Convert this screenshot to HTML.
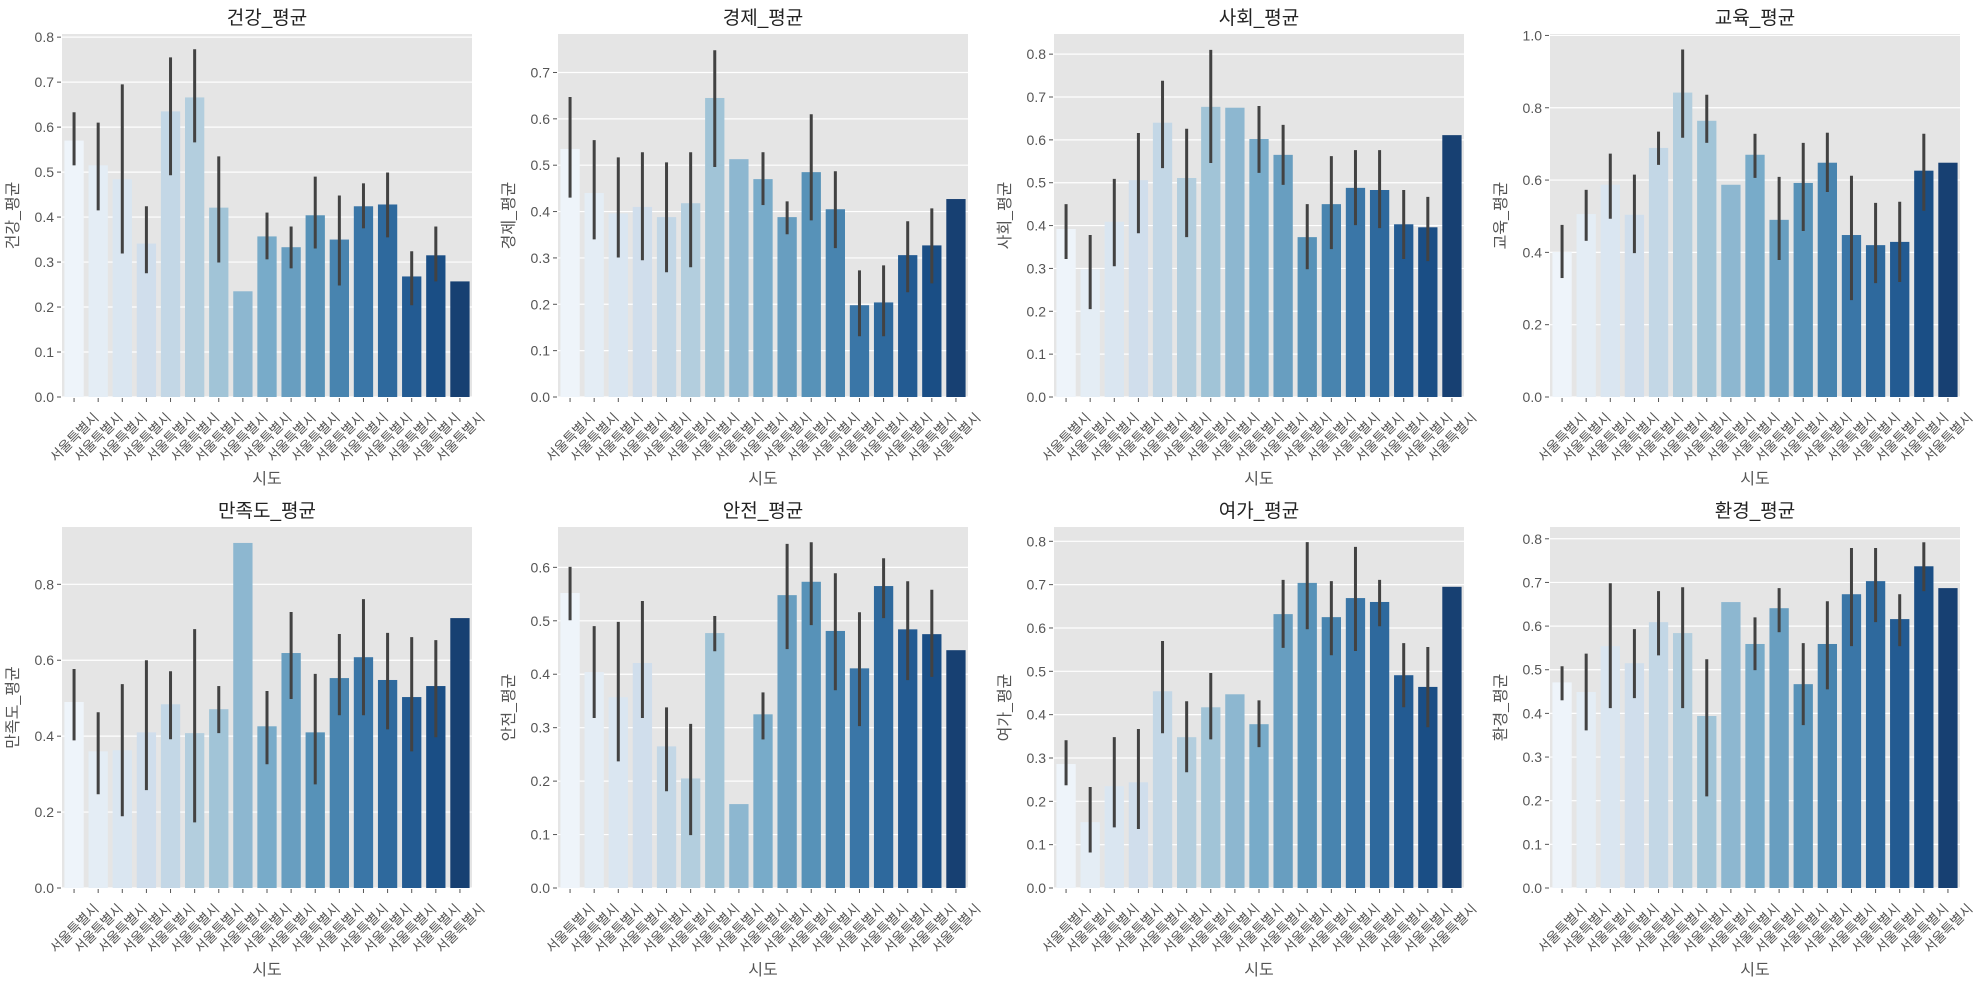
<!DOCTYPE html>
<html><head><meta charset="utf-8">
<style>
html,body{margin:0;padding:0;background:#fff;}
svg{display:block;font-family:"Liberation Sans","Noto Sans CJK KR","NanumGothic",sans-serif;}
</style></head>
<body>
<svg id="fig" width="1987" height="989" viewBox="0 0 1987 989" xmlns="http://www.w3.org/2000/svg"></svg>
<script>
const categories = ["서울특별시","서울특별시","서울특별시","서울특별시","서울특별시","서울특별시","서울특별시","서울특별시","서울특별시","서울특별시","서울특별시","서울특별시","서울특별시","서울특별시","서울특별시","서울특별시","서울특별시"];

const healthMean = [0.570,0.515,0.484,0.341,0.635,0.666,0.421,0.235,0.357,0.333,0.404,0.350,0.424,0.428,0.268,0.315,0.257];
const healthLo   = [0.515,0.415,0.319,0.275,0.493,0.566,0.299,null,0.306,0.286,0.330,0.248,0.375,0.355,0.204,0.257,null];
const healthHi   = [0.633,0.610,0.695,0.424,0.755,0.773,0.535,null,0.410,0.379,0.490,0.448,0.475,0.499,0.324,0.379,null];

const econMean = [0.535,0.440,0.396,0.410,0.388,0.418,0.645,0.513,0.470,0.388,0.485,0.405,0.198,0.204,0.306,0.327,0.427];
const econLo   = [0.430,0.340,0.301,0.295,0.269,0.280,0.496,null,0.414,0.351,0.381,0.321,0.131,0.131,0.226,0.245,null];
const econHi   = [0.647,0.554,0.517,0.528,0.506,0.528,0.748,null,0.528,0.422,0.610,0.487,0.273,0.284,0.379,0.407,null];

const socMean = [0.392,0.298,0.409,0.506,0.640,0.511,0.677,0.675,0.602,0.565,0.373,0.450,0.488,0.483,0.403,0.396,0.611];
const socLo   = [0.322,0.205,0.305,0.382,0.534,0.373,0.546,null,0.523,0.495,0.298,0.345,0.401,0.394,0.322,0.317,null];
const socHi   = [0.450,0.378,0.509,0.616,0.738,0.626,0.810,null,0.679,0.635,0.450,0.562,0.576,0.576,0.483,0.467,null];

const eduMean = [0.401,0.506,0.587,0.504,0.689,0.842,0.764,0.587,0.670,0.490,0.592,0.648,0.448,0.420,0.429,0.626,0.648];
const eduLo   = [0.329,0.432,0.493,0.398,0.642,0.717,0.703,null,0.606,0.379,0.459,0.567,0.268,0.315,0.318,0.515,null];
const eduHi   = [0.476,0.573,0.673,0.615,0.734,0.961,0.836,null,0.728,0.609,0.703,0.731,0.612,0.537,0.540,0.728,null];

const satMean = [0.490,0.360,0.363,0.410,0.484,0.408,0.471,0.909,0.426,0.619,0.410,0.553,0.608,0.548,0.503,0.532,0.711];
const satLo   = [0.389,0.247,0.189,0.258,0.392,0.173,0.408,null,0.326,0.498,0.273,0.455,0.455,0.418,0.360,0.397,null];
const satHi   = [0.577,0.463,0.537,0.600,0.571,0.682,0.532,null,0.519,0.727,0.564,0.669,0.761,0.672,0.661,0.653,null];

const safeMean = [0.552,0.404,0.357,0.421,0.265,0.205,0.477,0.157,0.325,0.548,0.573,0.481,0.411,0.565,0.484,0.475,0.445];
const safeLo   = [0.501,0.318,0.237,0.318,0.181,0.099,0.443,null,0.278,0.447,0.492,0.370,0.303,0.505,0.389,0.395,null];
const safeHi   = [0.601,0.490,0.498,0.537,0.338,0.307,0.509,null,0.366,0.644,0.647,0.589,0.516,0.617,0.574,0.558,null];

const leisMean = [0.286,0.152,0.235,0.244,0.454,0.348,0.417,0.447,0.378,0.632,0.704,0.625,0.669,0.660,0.491,0.464,0.695];
const leisLo   = [0.237,0.082,0.140,0.136,0.357,0.267,0.343,null,0.325,0.554,0.597,0.537,0.547,0.604,0.417,0.371,null];
const leisHi   = [0.341,0.233,0.348,0.367,0.570,0.431,0.496,null,0.433,0.711,0.798,0.708,0.787,0.711,0.565,0.556,null];

const envMean = [0.471,0.449,0.554,0.515,0.609,0.584,0.394,0.655,0.559,0.641,0.467,0.559,0.673,0.703,0.616,0.737,0.687];
const envLo   = [0.430,0.361,0.412,0.435,0.533,0.412,0.210,null,0.499,0.586,0.373,0.455,0.554,0.609,0.554,0.680,null];
const envHi   = [0.508,0.537,0.698,0.593,0.680,0.689,0.524,null,0.620,0.687,0.561,0.657,0.779,0.779,0.673,0.792,null];

const titles = ["건강_평균","경제_평균","사회_평균","교육_평균","만족도_평균","안전_평균","여가_평균","환경_평균"];
const yMaxes = [0.807,0.783,0.847,1.004,0.951,0.6755,0.833,0.827];
const tickStep = [0.1,0.1,0.1,0.2,0.2,0.1,0.1,0.1];
const tickCount = [9,8,9,6,5,7,9,9];

const means = [healthMean,econMean,socMean,eduMean,satMean,safeMean,leisMean,envMean];
const los = [healthLo,econLo,socLo,eduLo,satLo,safeLo,leisLo,envLo];
const his = [healthHi,econHi,socHi,eduHi,satHi,safeHi,leisHi,envHi];

const NS = "http://www.w3.org/2000/svg";
const svg = document.getElementById("fig");
function mk(tag, attrs, parent){ const e=document.createElementNS(NS,tag); for(const k in attrs) e.setAttribute(k,attrs[k]); (parent||svg).appendChild(e); return e; }

// Blues palette (seaborn style, desaturated 0.75)
const bluesStops = [[247,251,255],[222,235,247],[198,219,239],[158,202,225],[107,174,214],[66,146,198],[33,113,181],[8,81,156],[8,48,107]];
function blues(t){ const p=t*8; const i=Math.min(7,Math.floor(p)); const f=p-i; const a=bluesStops[i], b=bluesStops[i+1]; return [0,1,2].map(j=>(a[j]+(b[j]-a[j])*f)/255); }
function desat(rgb,s){ const [r,g,b]=rgb; const mx=Math.max(r,g,b), mn=Math.min(r,g,b); const l=(mx+mn)/2; if(mx===mn) return rgb;
  const d=mx-mn; let sat = l>0.5? d/(2-mx-mn) : d/(mx+mn); let h;
  if(mx===r) h=((g-b)/d)%6; else if(mx===g) h=(b-r)/d+2; else h=(r-g)/d+4; h/=6; if(h<0)h+=1;
  sat*=s; const q = l<0.5? l*(1+sat) : l+sat-l*sat; const pp=2*l-q;
  function hue(t){ if(t<0)t+=1; if(t>1)t-=1; if(t<1/6) return pp+(q-pp)*6*t; if(t<1/2) return q; if(t<2/3) return pp+(q-pp)*(2/3-t)*6; return pp; }
  return [hue(h+1/3),hue(h),hue(h-1/3)]; }
function colorAt(i,n){ const t=(i+1)/(n+1); const c=desat(blues(t),0.75); return "rgb("+c.map(v=>Math.round(v*255)).join(",")+")"; }

const colLeft = [62,558,1054,1550];
const axW = 410;
const rowTop = [34,527];
const rowBot = [397,888];

for(let p=0;p<8;p++){
  const col=p%4, row=Math.floor(p/4);
  const x0=colLeft[col], y0=rowTop[row], y1=rowBot[row];
  const h=y1-y0;
  const ymax=yMaxes[p];
  const yScale = v => y1 - v/ymax*h;
  const n=categories.length;
  const band=axW/n;
  const xScale = i => x0 + band*(i+0.5);
  const g = mk("g",{});
  
  

  const bg = mk("rect",{x:x0,y:y0,width:axW,height:h,fill:"#e5e5e5"},g);
  
  

  // y grid + ticks
  for(let k=0;k<tickCount[p];k++){
    const v=k*tickStep[p]; const y=yScale(v);
    const gl = mk("line",{x1:x0,x2:x0+axW,y1:y,y2:y,stroke:"#fff","stroke-width":1.2},g);
    
    
    mk("line",{x1:x0-5,x2:x0-1,y1:y,y2:y,stroke:"#555","stroke-width":1},g);
    const t = mk("text",{x:x0-8,y:y+5,"text-anchor":"end","font-size":14,fill:"#555"},g);
    t.textContent = v.toFixed(1);
    
    
  }

  // bars
  for(let i=0;i<n;i++){
    const cx=xScale(i), bw=band*0.8;
    const yv=yScale(means[p][i]);
    const r = mk("rect",{x:cx-bw/2,y:yv,width:bw,height:y1-yv,fill:colorAt(i,n)},g);
    
    
    if(los[p][i]!==null){
      const e = mk("line",{x1:cx,x2:cx,y1:yScale(his[p][i]),y2:yScale(los[p][i]),stroke:"#424242","stroke-width":3},g);
      
      
    }
    mk("line",{x1:cx,x2:cx,y1:y1+1,y2:y1+5,stroke:"#555","stroke-width":1},g);
    const ty=y1+40;
    const xt = mk("text",{x:cx,y:ty+5,"text-anchor":"middle","font-size":13.5,fill:"#555",transform:"rotate(-45 "+cx+" "+ty+")"},g);
    xt.textContent = categories[i];
    
    
  }

  const title = mk("text",{x:x0+axW/2,y:y0-10,"text-anchor":"middle","font-size":19,fill:"#222"},g);
  title.textContent = titles[p];
  
  

  const xl = mk("text",{x:x0+axW/2,y:y1+87,"text-anchor":"middle","font-size":16,fill:"#555"},g);
  xl.textContent = "시도";
  
  

  const ly=(y0+y1)/2, lx=x0-44;
  const yl = mk("text",{x:lx,y:ly,"text-anchor":"middle","font-size":16,fill:"#555",transform:"rotate(-90 "+lx+" "+ly+")"},g);
  yl.textContent = titles[p];
  
  
}
</script>
</body></html>
